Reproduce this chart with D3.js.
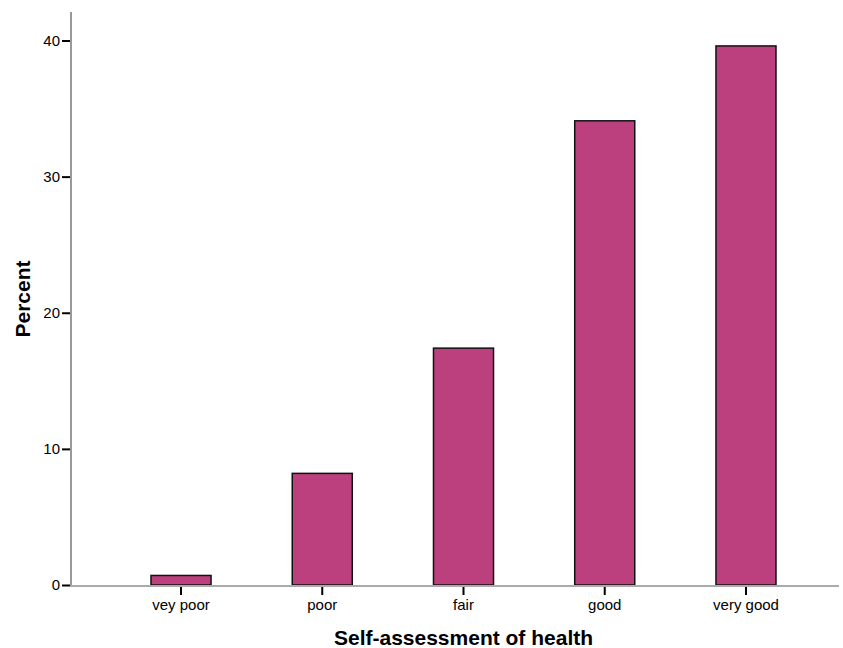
<!DOCTYPE html>
<html><head><meta charset="utf-8">
<script src="https://cdn.jsdelivr.net/npm/d3@7"></script>
<style>body{margin:0;background:#fff;} text{font-family:"Liberation Sans",Arial,sans-serif;}</style>
</head><body>
<svg id="c" width="843" height="648"></svg>
<script>
const categories = ["vey poor", "poor", "fair", "good", "very good"];
const percents = [0.7, 8.2, 17.4, 34.1, 39.6];
const yTicks = [0, 10, 20, 30, 40];

const svg = d3.select("#c");
const x = d3.scaleBand().domain(categories).range([110.4, 816.6]).paddingInner(0.575).paddingOuter(0.2875);
const y = d3.scaleLinear().domain([0, 40]).range([585, 40.5]);

// bars
svg.append("g").selectAll("rect").data(categories).join("rect")
  .attr("x", d => x(d)).attr("width", x.bandwidth())
  .attr("y", (d, i) => y(percents[i])).attr("height", (d, i) => y(0) - y(percents[i]))
  .attr("fill", "#BC3F7E").attr("stroke", "#111").attr("stroke-width", 1.5);

// axes lines
svg.append("line").attr("x1", 71).attr("x2", 71).attr("y1", 12).attr("y2", 586)
  .attr("stroke", "#999").attr("stroke-width", 2);
svg.append("line").attr("x1", 70).attr("x2", 839).attr("y1", 586).attr("y2", 586)
  .attr("stroke", "#aaa").attr("stroke-width", 2);

// y axis
const yAxis = d3.axisLeft(y).tickValues(yTicks).tickSize(8).tickPadding(2);
const gy = svg.append("g").attr("transform", "translate(70,0)").call(yAxis);
gy.select(".domain").remove();
gy.selectAll(".tick line").attr("stroke", "#000").attr("stroke-width", 2);
gy.selectAll(".tick text").attr("font-size", 15).attr("fill", "#000").style("font-family", "Liberation Sans, Arial, sans-serif");

// x axis
const xAxis = d3.axisBottom(x).tickSize(8).tickPadding(4);
const gx = svg.append("g").attr("transform", "translate(0,587)").call(xAxis);
gx.select(".domain").remove();
gx.selectAll(".tick line").attr("stroke", "#000").attr("stroke-width", 2);
gx.selectAll(".tick text").attr("font-size", 15).attr("fill", "#000").style("font-family", "Liberation Sans, Arial, sans-serif");

// titles
svg.append("text").attr("x", 463.5).attr("y", 645).attr("text-anchor", "middle")
  .attr("font-size", 21).attr("font-weight", "bold").text("Self-assessment of health");
svg.append("text").attr("transform", "translate(30,299) rotate(-90)").attr("text-anchor", "middle")
  .attr("font-size", 21).attr("font-weight", "bold").text("Percent");
</script>
</body></html>
